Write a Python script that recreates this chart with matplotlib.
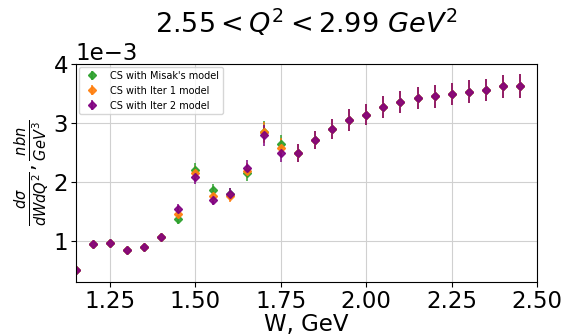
import matplotlib.pyplot as plt
import numpy as np

# W bins, GeV
w = [1.15, 1.20, 1.25, 1.30, 1.35, 1.40, 1.45, 1.50, 1.55, 1.60, 1.65, 1.70, 1.75,
     1.80, 1.85, 1.90, 1.95, 2.00, 2.05, 2.10, 2.15, 2.20, 2.25, 2.30, 2.35, 2.40, 2.45]

# cross sections (x1e-3 nb/GeV^3)
cs_misak = [0.50, 0.94, 0.97, 0.85, 0.90, 1.06, 1.37, 2.20, 1.86, 1.79, 2.15, 2.85, 2.64,
            2.49, 2.71, 2.90, 3.05, 3.14, 3.27, 3.36, 3.42, 3.45, 3.49, 3.53, 3.56, 3.62, 3.63]
cs_iter1 = [0.50, 0.94, 0.97, 0.85, 0.90, 1.06, 1.46, 2.15, 1.76, 1.76, 2.19, 2.84, 2.58,
            2.49, 2.71, 2.90, 3.05, 3.14, 3.27, 3.36, 3.42, 3.45, 3.49, 3.53, 3.56, 3.62, 3.63]
cs_iter2 = [0.50, 0.94, 0.97, 0.85, 0.90, 1.06, 1.54, 2.08, 1.70, 1.79, 2.24, 2.79, 2.49,
            2.49, 2.71, 2.90, 3.05, 3.14, 3.27, 3.36, 3.42, 3.45, 3.49, 3.53, 3.56, 3.62, 3.63]
err = [0.03, 0.04, 0.04, 0.04, 0.04, 0.05, 0.08, 0.12, 0.10, 0.10, 0.13, 0.18, 0.16,
       0.15, 0.16, 0.17, 0.18, 0.18, 0.19, 0.19, 0.19, 0.19, 0.19, 0.19, 0.19, 0.20, 0.20]

scale = 1e-3
fig = plt.figure(figsize=(5.66, 3.35), dpi=100)
ax = fig.add_axes([0.134, 0.158, 0.815, 0.651])

series = [(cs_misak, "tab:green", "CS with Misak's model"),
          (cs_iter1, "tab:orange", "CS with Iter 1 model"),
          (cs_iter2, "purple", "CS with Iter 2 model")]
for vals, col, lab in series:
    ax.errorbar(w, np.array(vals) * scale, yerr=np.array(err) * scale, fmt="D",
                color=col, markersize=4.5, elinewidth=1.2, alpha=0.9, label=lab)

ax.set_xlim(1.15, 2.5)
ax.set_ylim(0.3e-3, 4.0e-3)
ax.set_xticks([1.25, 1.50, 1.75, 2.00, 2.25, 2.50])
ax.set_yticks([1e-3, 2e-3, 3e-3, 4e-3])
ax.ticklabel_format(axis="y", style="sci", scilimits=(0, 0))
ax.tick_params(labelsize=16.5, pad=2)
ax.yaxis.get_offset_text().set_fontsize(16.5)
ax.grid(True, color="#d0d0d0", linewidth=0.8)
ax.set_xlabel("W, GeV", fontsize=16.5, labelpad=0)
ax.set_ylabel(r"$\frac{d\sigma}{dWdQ^2}, \frac{nbn}{GeV^3}$", fontsize=15, labelpad=2)
ax.set_title(r"$2.55 < Q^2 < 2.99\ GeV^2$", fontsize=19.5, pad=22)
ax.legend(loc="upper left", fontsize=7, frameon=True, borderaxespad=0.3)

fig.savefig("out.png", dpi=100)
